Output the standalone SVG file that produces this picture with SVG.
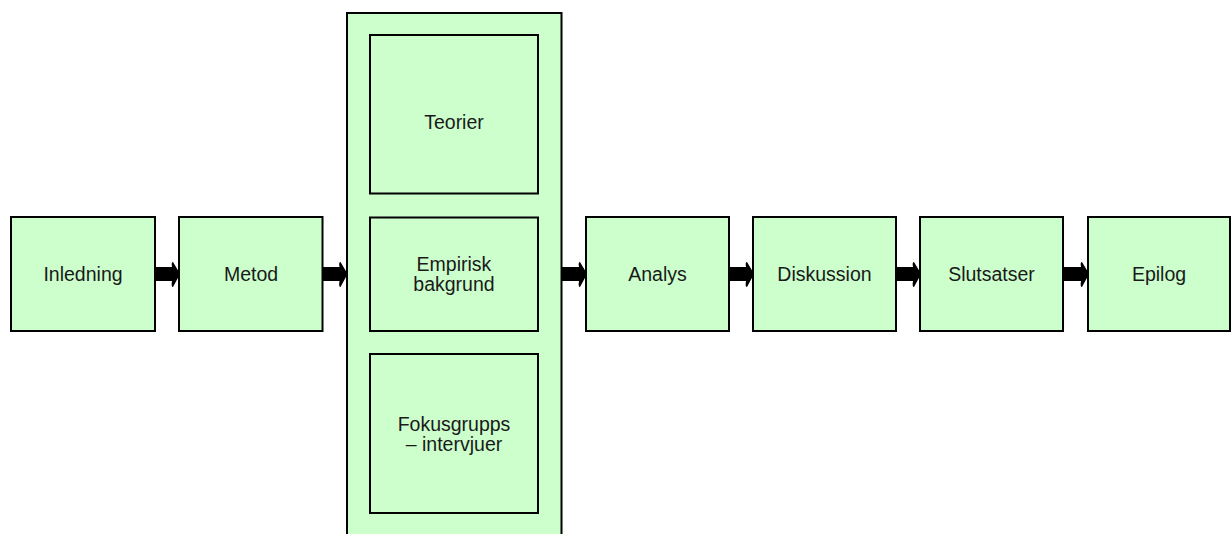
<svg xmlns="http://www.w3.org/2000/svg" width="1231" height="534" viewBox="0 0 1231 534">
<style>
.box{fill:#CCFFCC;stroke:#000;stroke-width:2}
.lbl{font-family:"Liberation Sans",Arial,sans-serif;font-size:19.5px;fill:#1a1a1a;text-anchor:middle}
.arr{fill:#000}
</style>
<rect width="1231" height="534" fill="#fff"/>
<g id="container"><rect class="box" x="347" y="13" width="214.5" height="530"/></g>
<g id="inledning"><rect class="box" x="11" y="217" width="144" height="114"/><text class="lbl" x="83" y="281">Inledning</text></g>
<g id="metod"><rect class="box" x="179" y="217" width="143.5" height="114"/><text class="lbl" x="251" y="281">Metod</text></g>
<g id="teorier"><rect class="box" x="370" y="35" width="168" height="158.5"/><text class="lbl" x="454" y="129">Teorier</text></g>
<g id="empirisk"><rect class="box" x="370" y="217.5" width="168" height="113.5"/><text class="lbl" x="454" y="271">Empirisk</text><text class="lbl" x="454" y="291">bakgrund</text></g>
<g id="fokus"><rect class="box" x="370" y="354" width="168" height="159"/><text class="lbl" x="454" y="431">Fokusgrupps</text><text class="lbl" x="454" y="451">– intervjuer</text></g>
<g id="analys"><rect class="box" x="586" y="217" width="143" height="114"/><text class="lbl" x="657.5" y="281">Analys</text></g>
<g id="diskussion"><rect class="box" x="753" y="217" width="143" height="114"/><text class="lbl" x="824.5" y="281">Diskussion</text></g>
<g id="slutsatser"><rect class="box" x="920" y="217" width="143" height="114"/><text class="lbl" x="991.5" y="281">Slutsatser</text></g>
<g id="epilog"><rect class="box" x="1088" y="217" width="142" height="114"/><text class="lbl" x="1159" y="281">Epilog</text></g>
<g id="connectors">
<path class="arr" d="M155,267 H172 Q171,262 173,262 L179,272 V276 L173,287 Q171,287 172,281 H155 Z"/>
<path class="arr" d="M322.5,267 H339.5 Q338.5,262 340.5,262 L346.5,272 V276 L340.5,287 Q338.5,287 339.5,281 H322.5 Z"/>
<path class="arr" d="M561.5,267 H579 Q578,262 580,262 L586,272 V276 L580,287 Q578,287 579,281 H561.5 Z"/>
<path class="arr" d="M729,267 H746 Q745,262 747,262 L753,272 V276 L747,287 Q745,287 746,281 H729 Z"/>
<path class="arr" d="M896,267 H913 Q912,262 914,262 L920,272 V276 L914,287 Q912,287 913,281 H896 Z"/>
<path class="arr" d="M1063,267 H1081 Q1080,262 1082,262 L1088,272 V276 L1082,287 Q1080,287 1081,281 H1063 Z"/>
</g>
</svg>
